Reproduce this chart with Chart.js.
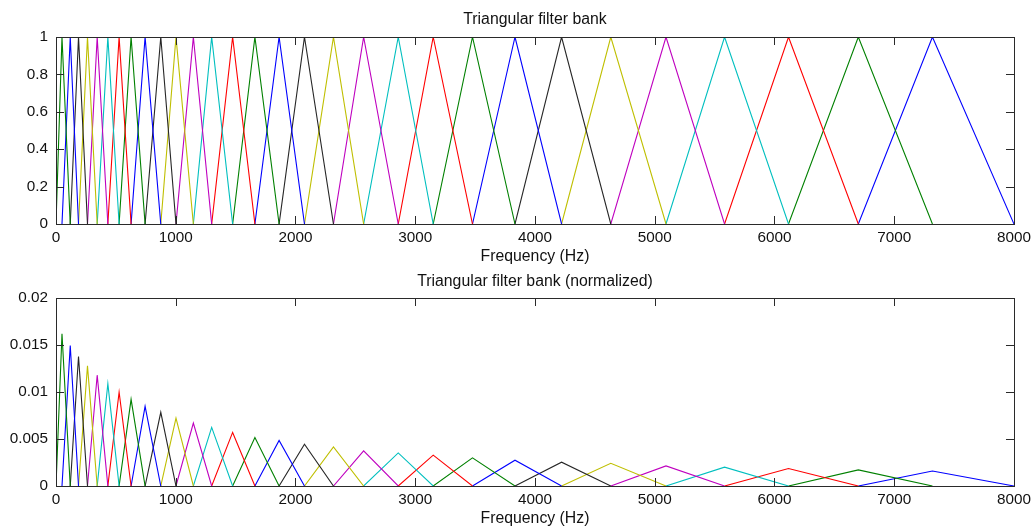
<!DOCTYPE html>
<html>
<head>
<meta charset="utf-8">
<script src="https://cdn.jsdelivr.net/npm/chart.js@4/dist/chart.umd.min.js"></script>
<style>
  html, body { margin: 0; padding: 0; background: #ffffff; }
  #wrap { position: relative; width: 1036px; height: 529px; overflow: hidden; }
  canvas { position: absolute; left: 0; }
</style>
</head>
<body>
<div id="wrap">
  <canvas id="c1" width="1036" height="270" style="top:0px"></canvas>
  <canvas id="c2" width="1036" height="259" style="top:270px"></canvas>
</div>
<script>
// ---- Data ----
// Filter edge / centre frequencies (Hz), low to high; filter k uses edges k, k+1, k+2
const edgesHz = [0, 50, 119, 188, 263, 344, 433, 527, 627, 744, 875, 1002, 1147, 1300, 1475, 1661,
  1863, 2075, 2317, 2569, 2858, 3150, 3478, 3833, 4222, 4633, 5094, 5583, 6117, 6700, 7319, 8000];
// Peak heights of the 30 filters (low to high frequency), top plot
const peaksTop = [1, 1, 1, 1, 1, 1, 1, 1, 1, 1, 1, 1, 1, 1, 1,
  1, 1, 1, 1, 1, 1, 1, 1, 1, 1, 1, 1, 1, 1, 1];
// Peak heights of the 30 filters (low to high frequency), normalized plot
const peaksNorm = [0.0162, 0.01495, 0.01377, 0.01278, 0.01179, 0.01089, 0.00997, 0.00922, 0.00848, 0.00784,
  0.00723, 0.00669, 0.00623, 0.0057, 0.00517, 0.00485, 0.00445, 0.00416, 0.00374, 0.00352,
  0.00328, 0.00299, 0.00274, 0.00253, 0.00242, 0.00214, 0.002, 0.00186, 0.00171, 0.0016];
// Tick values
const xTicks = [0, 1000, 2000, 3000, 4000, 5000, 6000, 7000, 8000];
const yTicksTop = [0, 0.2, 0.4, 0.6, 0.8, 1];
const yTicksNorm = [0, 0.005, 0.01, 0.015, 0.02];
// Texts
const title1 = 'Triangular filter bank';
const title2 = 'Triangular filter bank (normalized)';
const xLabel = 'Frequency (Hz)';
// MATLAB colour order (assigned starting from the highest-frequency filter)
const colorOrder = ['#0000ff', '#008000', '#ff0000', '#00bfbf', '#bf00bf', '#bfbf00', '#262626'];

// ---- Build datasets ----
function buildDatasets(peaks) {
  const n = peaks.length;
  const ds = [];
  for (let k = 0; k < n; k++) {
    const j = n - 1 - k;
    ds.push({
      xAxisID: 'x',
      yAxisID: 'y',
      data: [
        { x: edgesHz[k], y: 0 },
        { x: edgesHz[k + 1], y: peaks[k] },
        { x: edgesHz[k + 2], y: 0 }
      ],
      borderColor: colorOrder[j % colorOrder.length],
      borderWidth: 1.1,
      pointRadius: 0,
      pointHoverRadius: 0,
      fill: false,
      tension: 0,
      showLine: true
    });
  }
  return ds;
}

const FONT = "'Liberation Sans', Arial, sans-serif";
const textColor = '#111111';
const frameColor = '#2a2a2a';

// Frame + inward tick marks (MATLAB style)
const frameTicks = {
  id: 'frameTicks',
  afterDatasetsDraw(chart) {
    const { ctx, chartArea: a } = chart;
    const xs = chart.scales.x, ys = chart.scales.y;
    const len = 8;
    ctx.save();
    ctx.strokeStyle = frameColor;
    ctx.lineWidth = 1;
    ctx.beginPath();
    xs.ticks.forEach(t => {
      const px = Math.round(xs.getPixelForValue(t.value)) + 0.5;
      ctx.moveTo(px, a.bottom); ctx.lineTo(px, a.bottom - len);
      ctx.moveTo(px, a.top); ctx.lineTo(px, a.top + len);
    });
    ys.ticks.forEach(t => {
      const py = Math.round(ys.getPixelForValue(t.value)) + 0.5;
      ctx.moveTo(a.left, py); ctx.lineTo(a.left + len, py);
      ctx.moveTo(a.right, py); ctx.lineTo(a.right - len, py);
    });
    ctx.stroke();
    ctx.strokeRect(Math.round(a.left) + 0.5, Math.round(a.top) + 0.5,
      Math.round(a.right - a.left), Math.round(a.bottom - a.top));
    ctx.restore();
  }
};

function fmt(v) { return String(parseFloat(Number(v).toFixed(6))); }

function makeChart(id, peaks, yTicks, yMax, titleText, topHeight, titlePadTop, xAxisHeight, xTitlePadBottom) {
  return new Chart(document.getElementById(id), {
    type: 'line',
    data: { datasets: buildDatasets(peaks) },
    options: {
      responsive: false,
      animation: false,
      events: [],
      layout: { padding: { top: 0, right: 20, bottom: 0, left: 0 } },
      plugins: {
        legend: { display: false },
        tooltip: { enabled: false },
        title: { display: false }
      },
      scales: {
        x: {
          type: 'linear',
          position: 'bottom',
          min: xTicks[0],
          max: xTicks[xTicks.length - 1],
          afterBuildTicks: s => { s.ticks = xTicks.map(v => ({ value: v })); },
          afterFit: s => { s.height = xAxisHeight; },
          grid: { display: false, drawTicks: false },
          border: { display: false },
          ticks: {
            color: textColor,
            font: { family: FONT, size: 15.3 },
            padding: 5,
            maxRotation: 0,
            autoSkip: false,
            callback: v => fmt(v)
          },
          title: {
            display: true,
            text: xLabel,
            color: textColor,
            font: { family: FONT, size: 15.8, lineHeight: 1.2 },
            padding: { top: 0, bottom: xTitlePadBottom }
          }
        },
        xTop: {
          type: 'linear',
          position: 'top',
          min: xTicks[0],
          max: xTicks[xTicks.length - 1],
          afterFit: s => { s.height = topHeight; },
          grid: { display: false, drawTicks: false },
          border: { display: false },
          ticks: { display: false },
          title: {
            display: true,
            text: titleText,
            color: textColor,
            font: { family: FONT, size: 15.8, lineHeight: 1.2 },
            padding: { top: titlePadTop, bottom: 0 }
          }
        },
        y: {
          type: 'linear',
          min: 0,
          max: yMax,
          afterBuildTicks: s => { s.ticks = yTicks.map(v => ({ value: v })); },
          afterFit: s => { s.width = 56; },
          grid: { display: false, drawTicks: false },
          border: { display: false },
          ticks: {
            color: textColor,
            font: { family: FONT, size: 15.3 },
            padding: 8,
            autoSkip: false,
            callback: v => fmt(v)
          }
        }
      }
    },
    plugins: [frameTicks]
  });
}

makeChart('c1', peaksTop, yTicksTop, yTicksTop[yTicksTop.length - 1], title1, 37, 10, 46, 4);
makeChart('c2', peaksNorm, yTicksNorm, yTicksNorm[yTicksNorm.length - 1], title2, 28, 2, 43, 1);
</script>
</body>
</html>
